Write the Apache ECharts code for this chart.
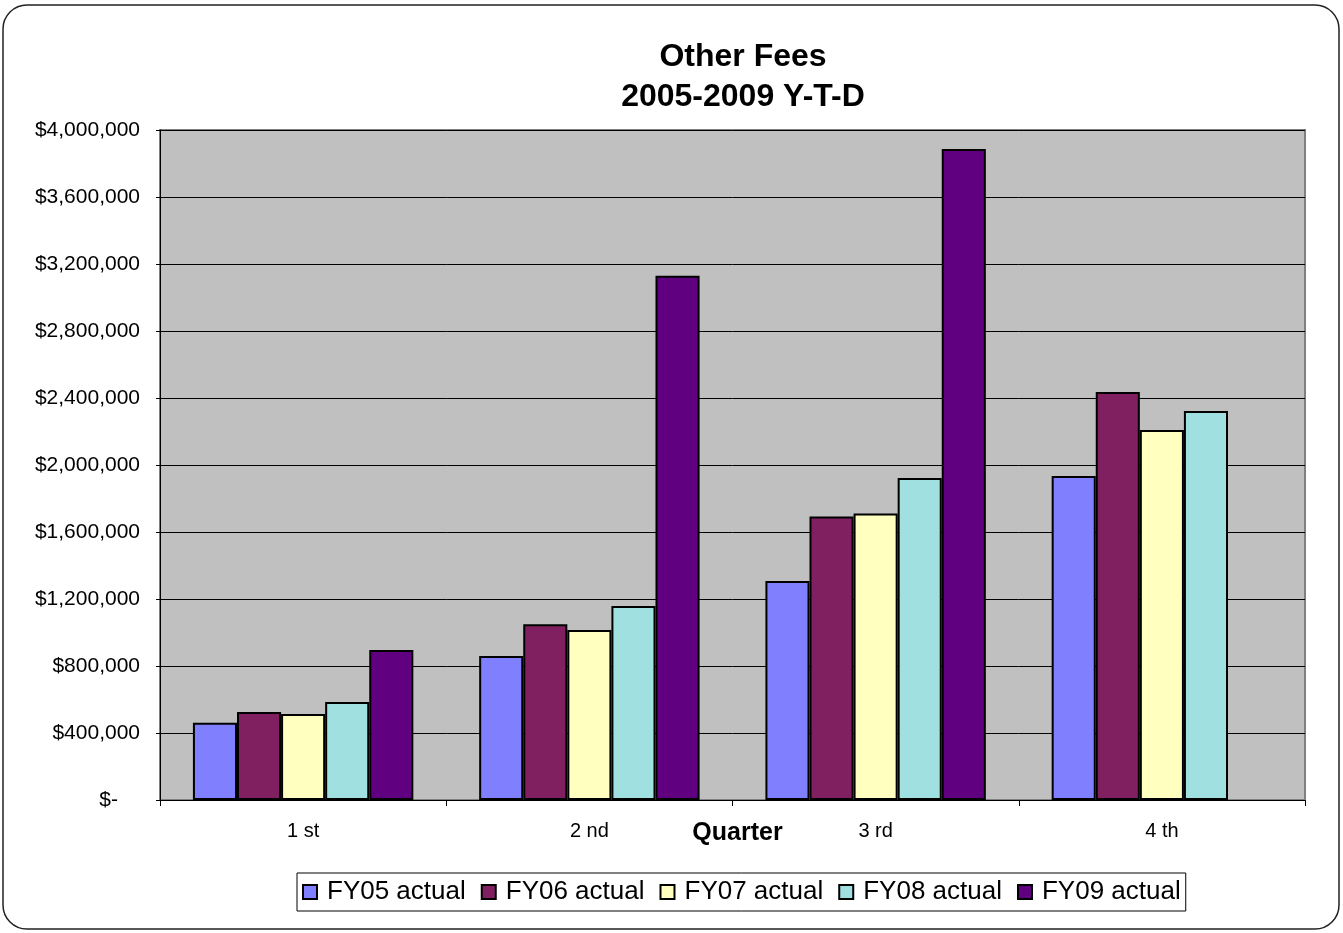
<!DOCTYPE html>
<html>
<head>
<meta charset="utf-8">
<script src="https://cdn.jsdelivr.net/npm/echarts@6/dist/echarts.min.js"></script>
<style>
  html, body { margin: 0; padding: 0; background: #fff; }
  #chart { width: 1343px; height: 933px; }
</style>
</head>
<body>
<div id="chart"></div>
<script>
// quarters and year-to-date totals per fiscal year
const categories = ['1 st', '2 nd', '3 rd', '4 th']
const seriesNames = ['FY05 actual', 'FY06 actual', 'FY07 actual', 'FY08 actual', 'FY09 actual']
const fy05 = [461000, 860000, 1307000, 1934000]
const fy06 = [525000, 1050000, 1692000, 2436000]
const fy07 = [514000, 1015000, 1710000, 2209000]
const fy08 = [585000, 1158000, 1922000, 2322000]
const fy09 = [896000, 3130000, 3886000, null]
const yTicks = [0, 400000, 800000, 1200000, 1600000, 2000000, 2400000, 2800000, 3200000, 3600000, 4000000]

const colors = ['#8080FF', '#802060', '#FFFFC0', '#A0E0E0', '#600080']
const allData = [fy05, fy06, fy07, fy08, fy09]
const font = '"Liberation Sans", Arial, sans-serif'

const chart = echarts.init(document.getElementById('chart'))

let series = seriesNames.map(function (name, i) {
  return {
    name: name,
    type: 'bar',
    data: allData[i],
    barGap: '0%',
    barCategoryGap: '23%',
    itemStyle: {
      color: colors[i],
      borderColor: '#000',
      borderWidth: 2
    }
  }
})

let option = {
  animation: false,
  title: {
    text: 'Other Fees\n2005-2009 Y-T-D',
    left: 738,
    textAlign: 'center',
    top: 32,
    textStyle: {
      fontFamily: font,
      fontSize: 32,
      fontWeight: 'bold',
      color: '#000',
      lineHeight: 40
    }
  },
  graphic: [
    {
      type: 'rect',
      shape: { x: 3, y: 5, width: 1336, height: 924, r: 24 },
      style: { fill: 'none', stroke: '#222', lineWidth: 1.5 },
      silent: true
    }
  ],
  legend: {
    data: seriesNames,
    left: 297,
    top: 873,
    padding: [6, 5],
    itemGap: 15,
    itemWidth: 14,
    itemHeight: 14,
    icon: 'rect',
    borderColor: '#000',
    borderWidth: 1,
    textStyle: {
      fontFamily: font,
      fontSize: 26,
      color: '#000',
      padding: [0, 0, 0, 5]
    }
  },
  grid: {
    left: 160,
    right: 38,
    top: 130,
    bottom: 133,
    show: true,
    backgroundColor: '#C0C0C0',
    borderColor: '#808080',
    borderWidth: 2,
    containLabel: false
  },
  xAxis: {
    type: 'category',
    data: categories,
    name: 'Quarter',
    nameLocation: 'middle',
    nameGap: 18,
    nameMoveOverlap: false,
    nameTextStyle: {
      fontFamily: font,
      fontSize: 25,
      fontWeight: 'bold',
      color: '#000',
      padding: [3, 0, 0, 10]
    },
    axisLine: { show: true, lineStyle: { color: '#000', width: 1 } },
    axisTick: { show: true, alignWithLabel: false, length: 6, lineStyle: { color: '#000' } },
    axisLabel: {
      fontFamily: font,
      fontSize: 20,
      color: '#000',
      margin: 21
    },
    splitLine: { show: false }
  },
  yAxis: {
    type: 'value',
    min: yTicks[0],
    max: yTicks[yTicks.length - 1],
    interval: yTicks[1] - yTicks[0],
    axisLine: { show: true, lineStyle: { color: '#000', width: 1 } },
    axisTick: { show: true, length: 4, lineStyle: { color: '#000' } },
    axisLabel: {
      fontFamily: font,
      fontSize: 21,
      color: '#000',
      margin: 20,
      formatter: function (v) {
        if (v === 0) return '{z|$-}'
        return '$' + v.toLocaleString('en-US')
      },
      rich: {
        z: {
          fontFamily: font,
          fontSize: 21,
          color: '#000',
          padding: [0, 22, 0, 0]
        }
      }
    },
    splitLine: { show: true, lineStyle: { color: '#000', width: 1 } }
  },
  series: series
}

chart.setOption(option)
</script>
</body>
</html>
